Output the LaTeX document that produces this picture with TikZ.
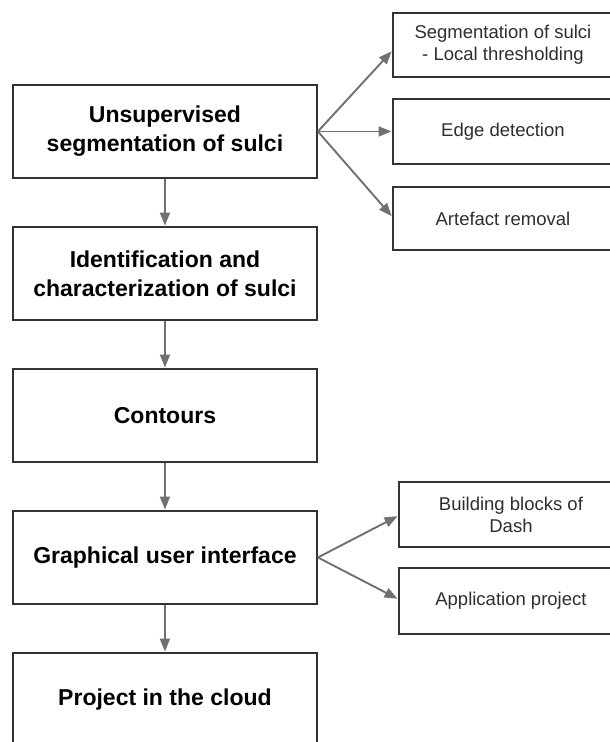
\documentclass[tikz,border=0pt]{standalone}
\usepackage{fontspec}
\setmainfont{Liberation Sans}
\usetikzlibrary{arrows.meta,calc}
\definecolor{boxc}{HTML}{333333}
\definecolor{arrc}{HTML}{707070}
\definecolor{txtc}{HTML}{2E2E2E}
\begin{document}
\begin{tikzpicture}[x=1pt,y=-1pt,
  mainbox/.style={draw=boxc, line width=1.9pt, minimum width=304pt, minimum height=93pt,
    inner sep=0pt, anchor=north west, align=center, text=black,
    font=\fontsize{23}{29}\selectfont\bfseries},
  sidebox/.style={draw=boxc, line width=1.9pt, minimum width=220pt, minimum height=64pt,
    inner sep=0pt, anchor=north west, align=center, text=txtc,
    font=\fontsize{18.5}{22}\selectfont},
  arr/.style={draw=arrc, line width=1.9pt, -{Triangle[length=13pt,width=10pt]}, shorten >=0.5pt}
]
\useasboundingbox (0,0) rectangle (610,742);
\clip (0,0) rectangle (610,742);

\node[mainbox] (A) at (12,84) {Unsupervised\\segmentation of sulci};
\node[mainbox] (B) at (12,226) {Identification and\\characterization of sulci};
\node[mainbox] (C) at (12,368) {Contours};
\node[mainbox] (D) at (12,510) {Graphical user interface};
\node[mainbox] (E) at (12,652) {Project in the cloud};

\node[sidebox] (R1) at (392,12) {Segmentation of sulci\\- Local thresholding};
\node[sidebox, minimum height=65pt] (R2) at (392,98) {Edge detection};
\node[sidebox, minimum height=63pt] (R3) at (392,186) {Artefact removal};
\node[sidebox, minimum width=224pt, minimum height=65pt] (R4) at (398,481) {Building blocks of\\Dash};
\node[sidebox, minimum width=224pt, minimum height=66pt] (R5) at (398,567) {Application project};

\draw[arr] (A) -- (B);
\draw[arr] (B) -- (C);
\draw[arr] (C) -- (D);
\draw[arr] (D) -- (E);

\draw[arr] (A.east) -- ($(R1.west)+(0,6)$);
\draw[arr] (A.east) -- (R2.west);
\draw[arr] (A.east) -- ($(R3.west)+(0,-2)$);
\draw[arr] (D.east) -- ($(R4.west)+(0,1.5)$);
\draw[arr] (D.east) -- ($(R5.west)+(0,-2)$);
\end{tikzpicture}
\end{document}
